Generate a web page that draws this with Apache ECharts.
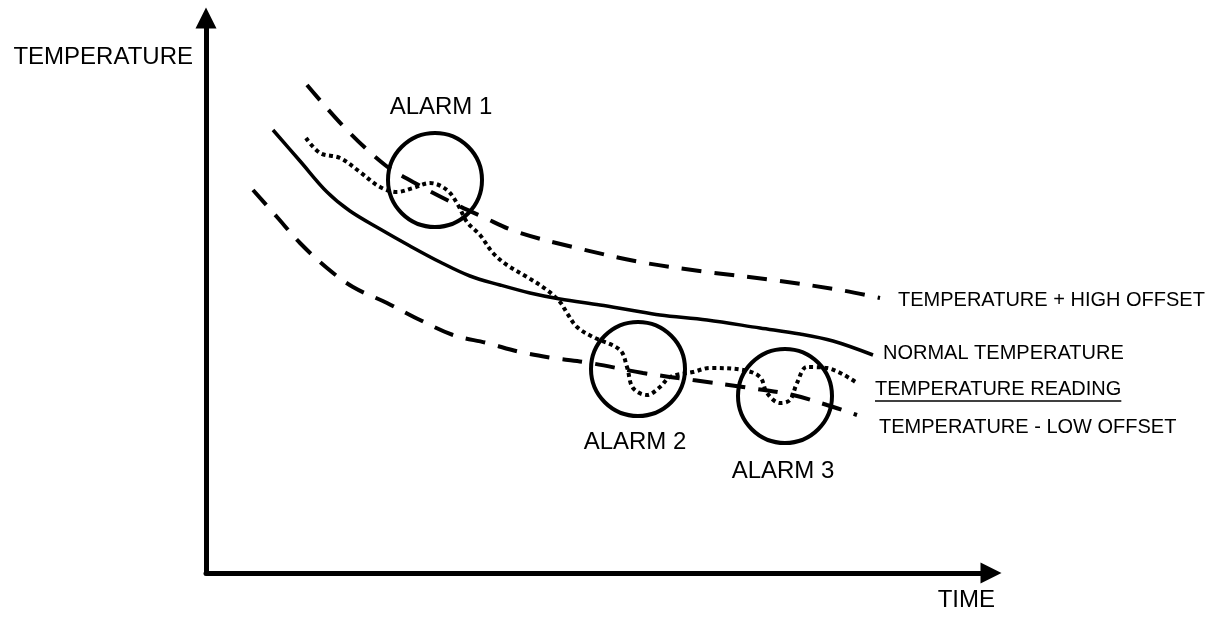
<!DOCTYPE html>
<html>
<head>
<meta charset="utf-8">
<script src="https://cdn.jsdelivr.net/npm/echarts@6/dist/echarts.min.js"></script>
<style>
  html, body { margin: 0; background: #fff; }
  #chart { width: 1223px; height: 617px; }
</style>
</head>
<body>
<div id="chart"></div>
<script>
// values: [time, temperature] in arbitrary units
const highOffset = [[101,488],[139,445],[179,408],[207,391],[247,370],[277,356],[311,341],[367,326],[434,311],[501,301],[567,293],[634,283],[674,275]];
const normalTemp = [[67,443],[94,412],[121,381],[144,362],[174,344],[204,327],[234,311],[264,297],[294,288],[324,280],[354,274],[394,268],[424,263],[454,258],[501,253],[554,245],[594,239],[627,232],[667,218]];
const lowOffset = [[47,383],[71,356],[94,330],[121,305],[147,286],[181,270],[214,253],[247,238],[281,230],[314,221],[347,215],[384,210],[437,200],[487,193],[537,186],[587,178],[621,168],[651,158]];
const reading = [[100,435],[114,420],[134,415],[154,401],[174,386],[191,381],[207,385],[224,390],[241,383],[252,368],[261,351],[274,338],[287,320],[301,308],[321,296],[341,283],[354,271],[361,260],[371,246],[387,236],[414,223],[421,206],[427,185],[441,178],[454,186],[464,196],[487,201],[504,205],[537,203],[554,196],[561,180],[574,170],[584,173],[591,190],[601,206],[621,205],[651,190]];
const alarmNames = ['ALARM 1', 'ALARM 2', 'ALARM 3'];
const alarmTime = [229, 432, 579];
const alarmTemp = [393, 204, 177];

const FONT = '"Liberation Sans", Arial, sans-serif';
const chart = echarts.init(document.getElementById('chart'));

// width of the underline under the reading label
const ctx = document.createElement('canvas').getContext('2d');
ctx.font = '20px "Liberation Sans"';
const readingWidth = ctx.measureText('TEMPERATURE READING').width;

function lineSeries(name, data, lineStyle, label) {
  return {
    name: name,
    type: 'line',
    data: data,
    smooth: 0.35,
    symbol: 'none',
    silent: true,
    lineStyle: Object.assign({ color: '#000', opacity: 1 }, lineStyle),
    endLabel: Object.assign({
      show: true,
      formatter: name,
      color: '#000',
      fontSize: 20,
      fontFamily: FONT
    }, label)
  };
}

const option = {
  animation: false,
  backgroundColor: '#fff',
  grid: { left: 206, right: 232, top: 18, bottom: 44, containLabel: false, outerBoundsMode: 'none' },
  xAxis: {
    type: 'value', min: 0, max: 785,
    name: 'TIME',
    nameLocation: 'end',
    nameGap: 4,
    nameTextStyle: { color: '#000', fontSize: 24, fontFamily: FONT, align: 'right', verticalAlign: 'top', padding: [15, 0, 0, 0] },
    axisLine: { show: true, symbol: ['none', 'triangle'], symbolSize: [21, 21], lineStyle: { color: '#000', width: 5 } },
    axisTick: { show: false }, axisLabel: { show: false }, splitLine: { show: false }
  },
  yAxis: {
    type: 'value', min: 0, max: 555,
    name: 'TEMPERATURE',
    nameLocation: 'end',
    nameGap: -39,
    nameTextStyle: { color: '#000', fontSize: 24, fontFamily: FONT, align: 'right', verticalAlign: 'middle', padding: [0, 13, 0, 0] },
    axisLine: { show: true, symbol: ['none', 'triangle'], symbolSize: [21, 21], lineStyle: { color: '#000', width: 5 } },
    axisTick: { show: false }, axisLabel: { show: false }, splitLine: { show: false }
  },
  series: [
    lineSeries('TEMPERATURE + HIGH OFFSET', highOffset, { width: 4, type: [20, 13] }, { distance: 18, offset: [0, 2] }),
    lineSeries('NORMAL TEMPERATURE', normalTemp, { width: 3.5 }, { distance: 10, offset: [0, -2] }),
    lineSeries('TEMPERATURE - LOW OFFSET', lowOffset, { width: 4, type: [20, 13] }, { distance: 22, offset: [0, 12] }),
    lineSeries('TEMPERATURE READING', reading, { width: 4, type: [4, 3.5] }, {
      distance: 18, offset: [0, 7],
      formatter: '{t|TEMPERATURE READING}\n{u|}',
      rich: {
        t: { fontSize: 20, fontFamily: FONT, color: '#000', lineHeight: 22 },
        u: { width: readingWidth, height: 1.5, lineHeight: 2, backgroundColor: '#000' }
      }
    }),
    {
      name: 'alarms',
      type: 'scatter',
      silent: true,
      symbol: 'circle',
      symbolSize: 94,
      itemStyle: { color: 'rgba(0,0,0,0)', borderColor: '#000', borderWidth: 4, opacity: 1 },
      label: { show: true, formatter: '{b}', color: '#000', opacity: 1, fontSize: 24, fontFamily: FONT, distance: 12 },
      data: alarmNames.map((n, i) => ({
        name: n,
        value: [alarmTime[i], alarmTemp[i]],
        label: { position: i === 0 ? 'top' : 'bottom', offset: [[6, 0], [-3, 0], [-2, 2]][i] }
      }))
    }
  ]
};

chart.setOption(option);
</script>
</body>
</html>
